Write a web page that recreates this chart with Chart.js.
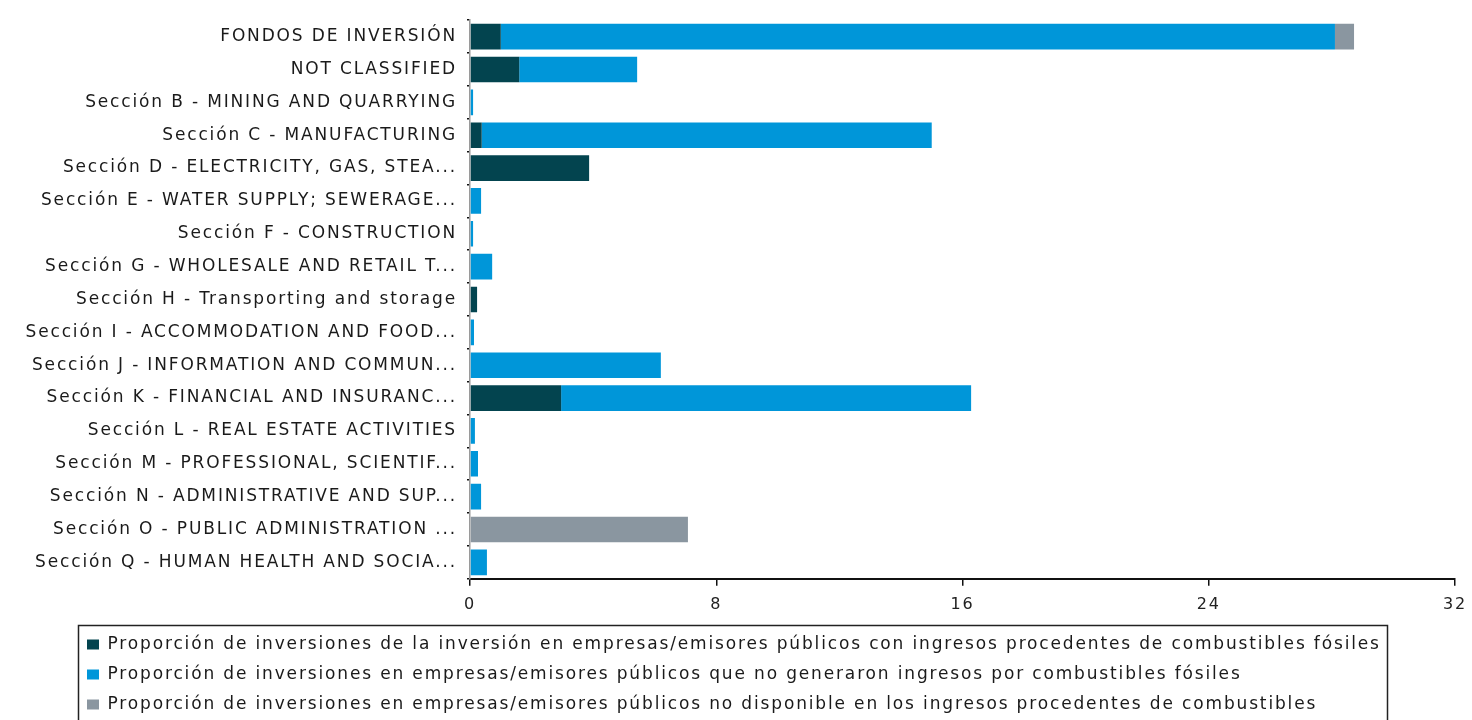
<!DOCTYPE html>
<html>
<head>
<meta charset="utf-8">
<script src="https://cdn.jsdelivr.net/npm/chart.js@4"></script>
<style>
  html, body { margin: 0; padding: 0; background: #fff; overflow: hidden; }
  #wrap { width: 1472px; height: 723px; }
</style>
</head>
<body>
<div id="wrap"><canvas id="c"></canvas></div>
<script>
const CATEGORIES = [
  'FONDOS DE INVERSIÓN',
  'NOT CLASSIFIED',
  'Sección B - MINING AND QUARRYING',
  'Sección C - MANUFACTURING',
  'Sección D - ELECTRICITY, GAS, STEA...',
  'Sección E - WATER SUPPLY; SEWERAGE...',
  'Sección F - CONSTRUCTION',
  'Sección G - WHOLESALE AND RETAIL T...',
  'Sección H - Transporting and storage',
  'Sección I - ACCOMMODATION AND FOOD...',
  'Sección J - INFORMATION AND COMMUN...',
  'Sección K - FINANCIAL AND INSURANC...',
  'Sección L - REAL ESTATE ACTIVITIES',
  'Sección M - PROFESSIONAL, SCIENTIF...',
  'Sección N - ADMINISTRATIVE AND SUP...',
  'Sección O - PUBLIC ADMINISTRATION ...',
  'Sección Q - HUMAN HEALTH AND SOCIA...',
];
const FOSSIL    = [1.0, 1.6, 0, 0.38, 3.87, 0, 0, 0, 0.23, 0, 0, 2.96, 0, 0, 0, 0, 0];
const NO_FOSSIL = [27.1, 3.83, 0.1, 14.62, 0, 0.36, 0.1, 0.72, 0, 0.13, 6.2, 13.32, 0.16, 0.26, 0.36, 0, 0.55];
const NO_DATA   = [0.62, 0, 0, 0, 0, 0, 0, 0, 0, 0, 0, 0, 0, 0, 0, 7.08, 0];
const X_TICKS = [0, 8, 16, 24, 32];

const LABELS = [
  'Proporción de inversiones de la inversión en empresas/emisores públicos con ingresos procedentes de combustibles fósiles',
  'Proporción de inversiones en empresas/emisores públicos que no generaron ingresos por combustibles fósiles',
  'Proporción de inversiones en empresas/emisores públicos no disponible en los ingresos procedentes de combustibles',
];
const COLORS = ['#03444F', '#0096D9', '#8A96A0'];

const FONT = 'DejaVu Sans';
const SPACING = '1.85px';
const LEGEND_SHIFT = 74;

// letter spacing like the original renderer; canvas state resets on resize so set it each time
const spacingPlugin = {
  id: 'spacing',
  beforeLayout(chart) { chart.ctx.letterSpacing = SPACING; },
  beforeDraw(chart) { chart.ctx.letterSpacing = SPACING; },
};

// move the legend right and frame it
const legendBox = {
  id: 'legendBox',
  afterLayout(chart) {
    if (chart.legend) chart.legend.left += LEGEND_SHIFT;
  },
  afterDraw(chart) {
    const lg = chart.legend;
    if (!lg || !lg.legendHitBoxes.length) return;
    const hb = lg.legendHitBoxes;
    const left = Math.min(...hb.map((h) => h.left)) - 9;
    const right = Math.max(...hb.map((h) => h.left + h.width)) + 6;
    const top = Math.min(...hb.map((h) => h.top)) - 11;
    const ctx = chart.ctx;
    ctx.save();
    ctx.strokeStyle = '#222';
    ctx.lineWidth = 1.5;
    ctx.strokeRect(Math.round(left) + 0.5, Math.round(top) + 0.5, Math.round(right - left), chart.height);
    ctx.restore();
  },
};

new Chart(document.getElementById('c'), {
  type: 'bar',
  data: {
    labels: CATEGORIES,
    datasets: [FOSSIL, NO_FOSSIL, NO_DATA].map((d, i) => ({
      label: LABELS[i],
      data: d,
      backgroundColor: COLORS[i],
      borderWidth: 0,
      categoryPercentage: 1,
      barPercentage: 0.78,
    })),
  },
  options: {
    indexAxis: 'y',
    responsive: true,
    maintainAspectRatio: false,
    animation: false,
    layout: { padding: { top: 12, left: 0, right: 17, bottom: 0 } },
    plugins: {
      tooltip: { enabled: false },
      legend: {
        position: 'bottom',
        align: 'start',
        labels: {
          boxWidth: 12, boxHeight: 10, padding: 13,
          color: '#1a1a1a',
          font: { family: FONT, size: 17 },
        },
      },
    },
    scales: {
      x: {
        stacked: true,
        min: 0, max: 32,
        afterBuildTicks: (ax) => { ax.ticks = X_TICKS.map((v) => ({ value: v })); },
        afterFit: (ax) => { ax.paddingRight = 0; ax.paddingLeft = 0; },
        grid: { drawOnChartArea: false, color: '#111', tickLength: 7, lineWidth: 1.5 },
        border: { color: '#111', width: 2 },
        ticks: { color: '#222', font: { family: FONT, size: 16 }, padding: 9, maxRotation: 0 },
      },
      y: {
        stacked: true,
        afterFit: (ax) => { ax.width = 470; },
        grid: { drawOnChartArea: false, color: '#111', tickLength: 3, lineWidth: 1.5, offset: true },
        border: { color: '#9a9a9a', width: 1.5 },
        ticks: { color: '#1a1a1a', font: { family: FONT, size: 17 }, padding: 10, autoSkip: false },
      },
    },
  },
  plugins: [spacingPlugin, legendBox],
});
</script>
</body>
</html>
